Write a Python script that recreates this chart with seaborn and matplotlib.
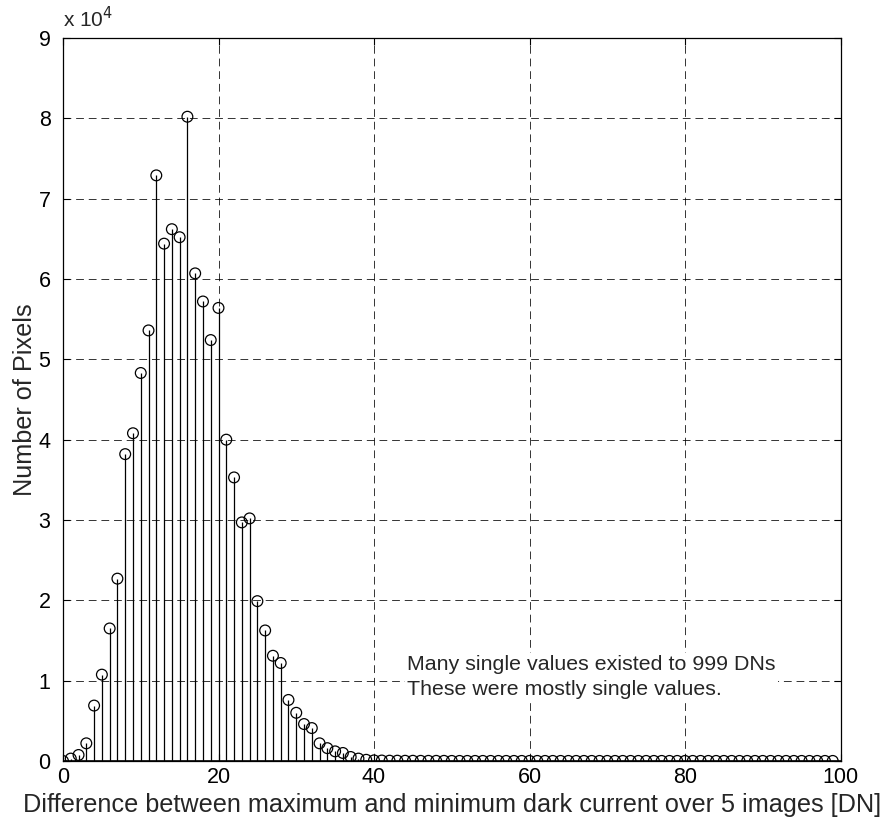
import numpy as np
import pandas as pd
import matplotlib
matplotlib.use("Agg")
import matplotlib.pyplot as plt
import seaborn as sns

# Data: number of pixels per DN difference (0..99)
dn_diff = list(range(100))
counts_head = [0, 300, 750, 2200, 6900, 10750, 16500, 22700, 38200, 40800,
               48300, 53600, 72900, 64400, 66200, 65200, 80200, 60700, 57200, 52400,
               56400, 40000, 35300, 29700, 30200, 19900, 16250, 13100, 12200, 7600,
               6000, 4600, 4100, 2200, 1600, 1200, 1000, 500, 300, 150,
               80]
counts_tail = [60, 40, 40, 30, 30, 20, 20, 20, 20, 10,
               10, 10, 10, 10, 10, 10, 10, 10, 10, 10,
               10, 10, 10, 10, 10, 10, 10, 10, 10, 10,
               10, 10, 10, 10, 10, 10, 10, 10, 10, 10,
               10, 10, 10, 10, 10, 10, 10, 10, 10, 10,
               10, 10, 10, 10, 10, 10, 10, 10, 10]
counts = counts_head + counts_tail
x_ticks = [0, 20, 40, 60, 80, 100]
y_ticks = [0, 1, 2, 3, 4, 5, 6, 7, 8, 9]
note_lines = ["Many single values existed to 999 DNs",
              "These were mostly single values."]

sns.set_style("white")
plt.rcParams['font.family'] = ['Liberation Sans', 'DejaVu Sans']

df = pd.DataFrame({"dn": dn_diff, "count": counts})

fig = plt.figure(figsize=(8.83, 8.23), dpi=100)
ax = fig.add_axes([63/883, 62/823, 777.5/883, 723/823])

ax.vlines(df["dn"], 0, df["count"], colors="black", linewidth=0.9, zorder=2)
sns.scatterplot(data=df, x="dn", y="count", ax=ax, marker="o", s=60,
                facecolor="none", edgecolor="black", linewidth=0.9, zorder=3,
                legend=False)
ax.axhline(0, color="black", linewidth=1.2, zorder=2)

ax.set_xlim(0, 100)
ax.set_ylim(0, 90000)
ax.set_xticks(x_ticks)
ax.set_xticklabels([str(t) for t in x_ticks], fontsize=15.5)
ax.set_yticks([t * 1e4 for t in y_ticks])
ax.set_yticklabels([str(t) for t in y_ticks], fontsize=15.5)
ax.tick_params(direction="in", length=5, width=0.8, colors="black",
               top=True, right=True, bottom=True, left=True)
ax.tick_params(axis="y", pad=9)
ax.tick_params(axis="x", pad=4)
ax.grid(True, color="black", linestyle=(0, (8, 5)), linewidth=0.7, alpha=0.8)
ax.set_axisbelow(True)
for s in ax.spines.values():
    s.set_color("black")
    s.set_linewidth(0.9)

ax.set_xlabel("Difference between maximum and minimum dark current over 5 images [DN]",
              fontsize=18.2, labelpad=4)
ax.set_ylabel("Number of Pixels", fontsize=18.2, labelpad=1)
ax.text(0.0, 1.01, r"x 10$^{4}$", transform=ax.transAxes, fontsize=15,
        ha="left", va="bottom")

ax.text(44.3, 10450, "\n".join(note_lines), fontsize=15.4, ha="left", va="center",
        linespacing=1.35, zorder=4,
        bbox=dict(facecolor="white", edgecolor="none", pad=1.5))

fig.savefig("out.png", dpi=100)
